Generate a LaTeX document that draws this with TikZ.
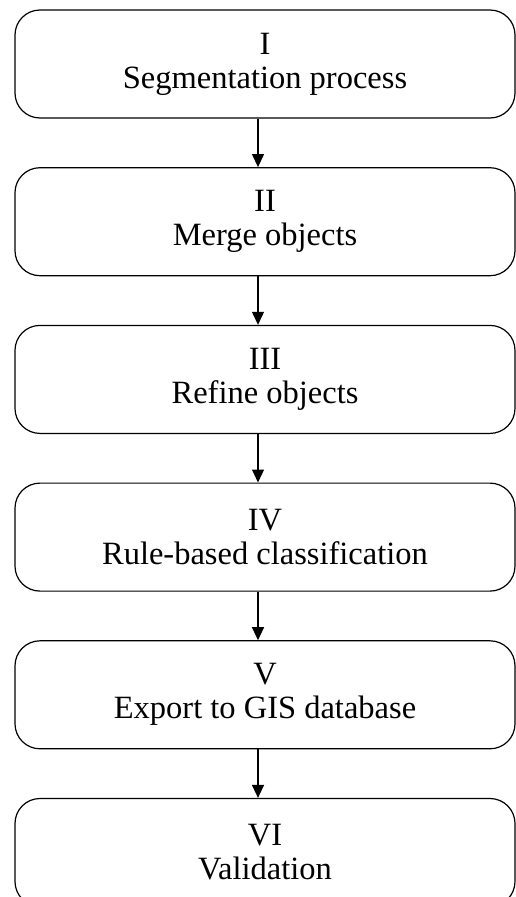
\documentclass[tikz,border=0pt]{standalone}
\usepackage{fontspec}
\setmainfont{Liberation Serif}
\usetikzlibrary{positioning,arrows.meta}

\begin{document}
\begin{tikzpicture}[
    etapa/.style={draw, line width=1.2pt, rounded corners=25pt,
        minimum width=500pt, minimum height=108pt, align=center,
        inner sep=0pt, font=\fontsize{32.5}{34}\selectfont},
    flecha/.style={-{Triangle[width=12pt,length=13pt]}, line width=1.2pt},
    node distance=48.5pt]
    % Marco de la figura
    \useasboundingbox (0,0) rectangle (516pt,-897pt);
    \clip (0,0) rectangle (516pt,-897pt);

    % Etapas del proceso
    \node[etapa] (e1) at (265pt,-64pt) {I\\Segmentation process};
    \node[etapa, below=of e1] (e2) {II\\Merge objects};
    \node[etapa, below=of e2] (e3) {III\\Refine objects};
    \node[etapa, below=of e3] (e4) {IV\\Rule-based classification};
    \node[etapa, below=of e4] (e5) {V\\Export to GIS database};
    \node[etapa, below=of e5] (e6) {VI\\Validation};

    % Flechas entre etapas
    \foreach \a/\b in {e1/e2,e2/e3,e3/e4,e4/e5,e5/e6}
        \draw[flecha] ([xshift=-7pt]\a.south) -- ([xshift=-7pt]\b.north);
\end{tikzpicture}
\end{document}
